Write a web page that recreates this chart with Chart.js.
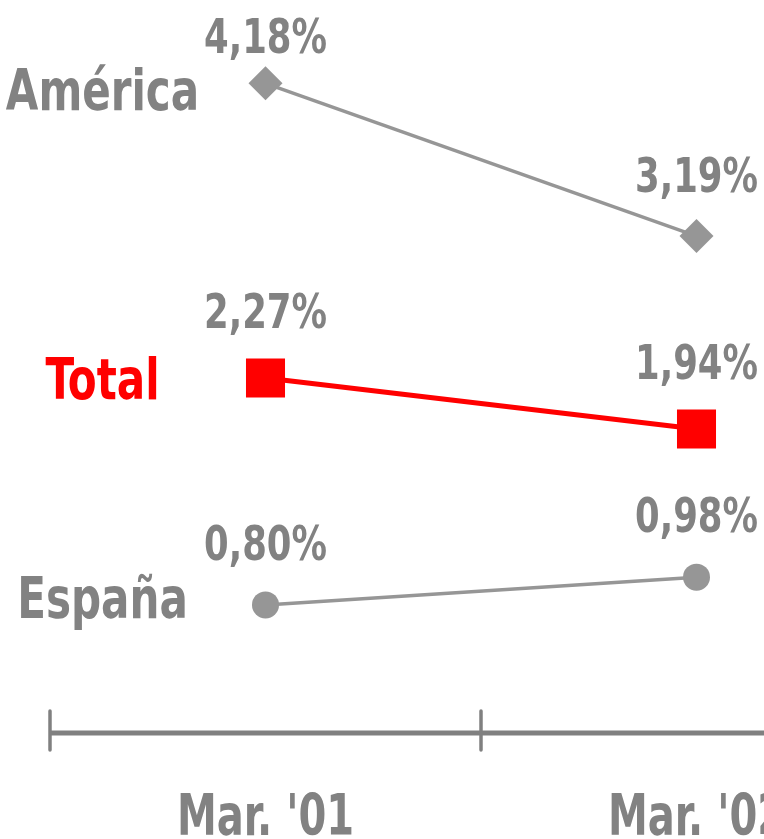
<!DOCTYPE html>
<html>
<head>
<meta charset="utf-8">
<script src="https://cdn.jsdelivr.net/npm/chart.js@4"></script>
<style>
  html, body { margin: 0; padding: 0; overflow: hidden; background: #fff; }
  canvas { display: block; }
</style>
</head>
<body>
<canvas id="chart" width="940" height="839"></canvas>
<script>
// Data
const periods = ["Mar. '01", "Mar. '02"];
const america = [4.18, 3.19];
const total = [2.27, 1.94];
const espana = [0.80, 0.98];
const seriesNames = ['América', 'Total', 'España'];

const FONT = '"DejaVu Sans Condensed", "DejaVu Sans", sans-serif';
const GREY_TEXT = '#828282';
const GREY_LINE = '#969696';
const RED = '#ff0000';

function fmt(v) {
    return v.toFixed(2).replace('.', ',') + '%';
}

// draws text squeezed horizontally (narrow face look)
function narrowText(ctx, text, x, y, sx) {
    ctx.save();
    ctx.translate(x, y);
    ctx.scale(sx, 1);
    ctx.fillText(text, 0, 0);
    ctx.restore();
}

// Value labels above points + series names left of the first point
const seriesLabels = {
    id: 'seriesLabels',
    afterDatasetsDraw(chart) {
        const ctx = chart.ctx;
        ctx.save();
        ctx.textAlign = 'center';
        ctx.textBaseline = 'alphabetic';
        chart.data.datasets.forEach((ds, i) => {
            const meta = chart.getDatasetMeta(i);
            ctx.font = 'bold 48px ' + FONT;
            ctx.fillStyle = GREY_TEXT;
            meta.data.forEach((pt, j) => {
                const y = Math.max(pt.y - ds.labelGap, 53);
                narrowText(ctx, fmt(ds.data[j]), pt.x, y, 0.82);
            });
            const first = meta.data[0];
            ctx.font = 'bold 57px ' + FONT;
            ctx.fillStyle = ds.nameColor;
            narrowText(ctx, ds.label, first.x - 163, first.y + ds.nameDy, 0.82);
        });
        ctx.restore();
    }
};

// Axis line with tick marks crossing it, and category labels
const crossAxis = {
    id: 'crossAxis',
    afterDraw(chart) {
        const x = chart.scales.x;
        const ctx = chart.ctx;
        const n = chart.data.labels.length;
        const step = (x.right - x.left) / n;
        const base = chart.chartArea.bottom;
        ctx.save();
        ctx.strokeStyle = '#808080';
        ctx.lineWidth = 5;
        ctx.beginPath();
        ctx.moveTo(x.left, base);
        ctx.lineTo(x.right, base);
        ctx.stroke();
        ctx.lineWidth = 3.5;
        ctx.lineCap = 'round';
        for (let i = 0; i <= n; i++) {
            const px = x.left + i * step;
            ctx.beginPath();
            ctx.moveTo(px, base - 22);
            ctx.lineTo(px, base + 17);
            ctx.stroke();
        }
        ctx.font = 'bold 57px ' + FONT;
        ctx.fillStyle = GREY_TEXT;
        ctx.textAlign = 'center';
        ctx.textBaseline = 'alphabetic';
        chart.data.labels.forEach((lab, i) => {
            narrowText(ctx, lab, x.getPixelForTick(i), base + 102, 0.78);
        });
        ctx.restore();
    }
};

new Chart(document.getElementById('chart'), {
    type: 'line',
    data: {
        labels: periods,
        datasets: [
            {
                label: seriesNames[0],
                data: america,
                borderColor: GREY_LINE,
                backgroundColor: GREY_LINE,
                borderWidth: 3.5,
                pointStyle: 'rectRot',
                pointRadius: 17,
                pointBorderWidth: 0,
                labelGap: 44,
                nameDy: 27,
                nameColor: GREY_TEXT
            },
            {
                label: seriesNames[1],
                data: total,
                borderColor: RED,
                backgroundColor: RED,
                borderWidth: 5,
                pointStyle: 'rect',
                pointRadius: 27.6,
                pointBorderWidth: 0,
                labelGap: 50,
                nameDy: 21,
                nameColor: RED
            },
            {
                label: seriesNames[2],
                data: espana,
                borderColor: GREY_LINE,
                backgroundColor: GREY_LINE,
                borderWidth: 3.5,
                pointStyle: 'circle',
                pointRadius: 13.5,
                pointBorderWidth: 0,
                labelGap: 45,
                nameDy: 13,
                nameColor: GREY_TEXT
            }
        ]
    },
    options: {
        responsive: false,
        animation: false,
        clip: false,
        layout: {
            autoPadding: false,
            padding: { left: 50, right: 28, top: 0, bottom: 106 }
        },
        elements: {
            line: { tension: 0 }
        },
        plugins: {
            legend: { display: false },
            tooltip: { enabled: false }
        },
        scales: {
            x: {
                type: 'category',
                offset: true,
                grid: { display: false, drawTicks: false },
                border: { display: false },
                ticks: { display: false }
            },
            y: {
                display: false,
                min: -0.03,
                max: 4.72
            }
        }
    },
    plugins: [seriesLabels, crossAxis]
});
</script>
</body>
</html>
